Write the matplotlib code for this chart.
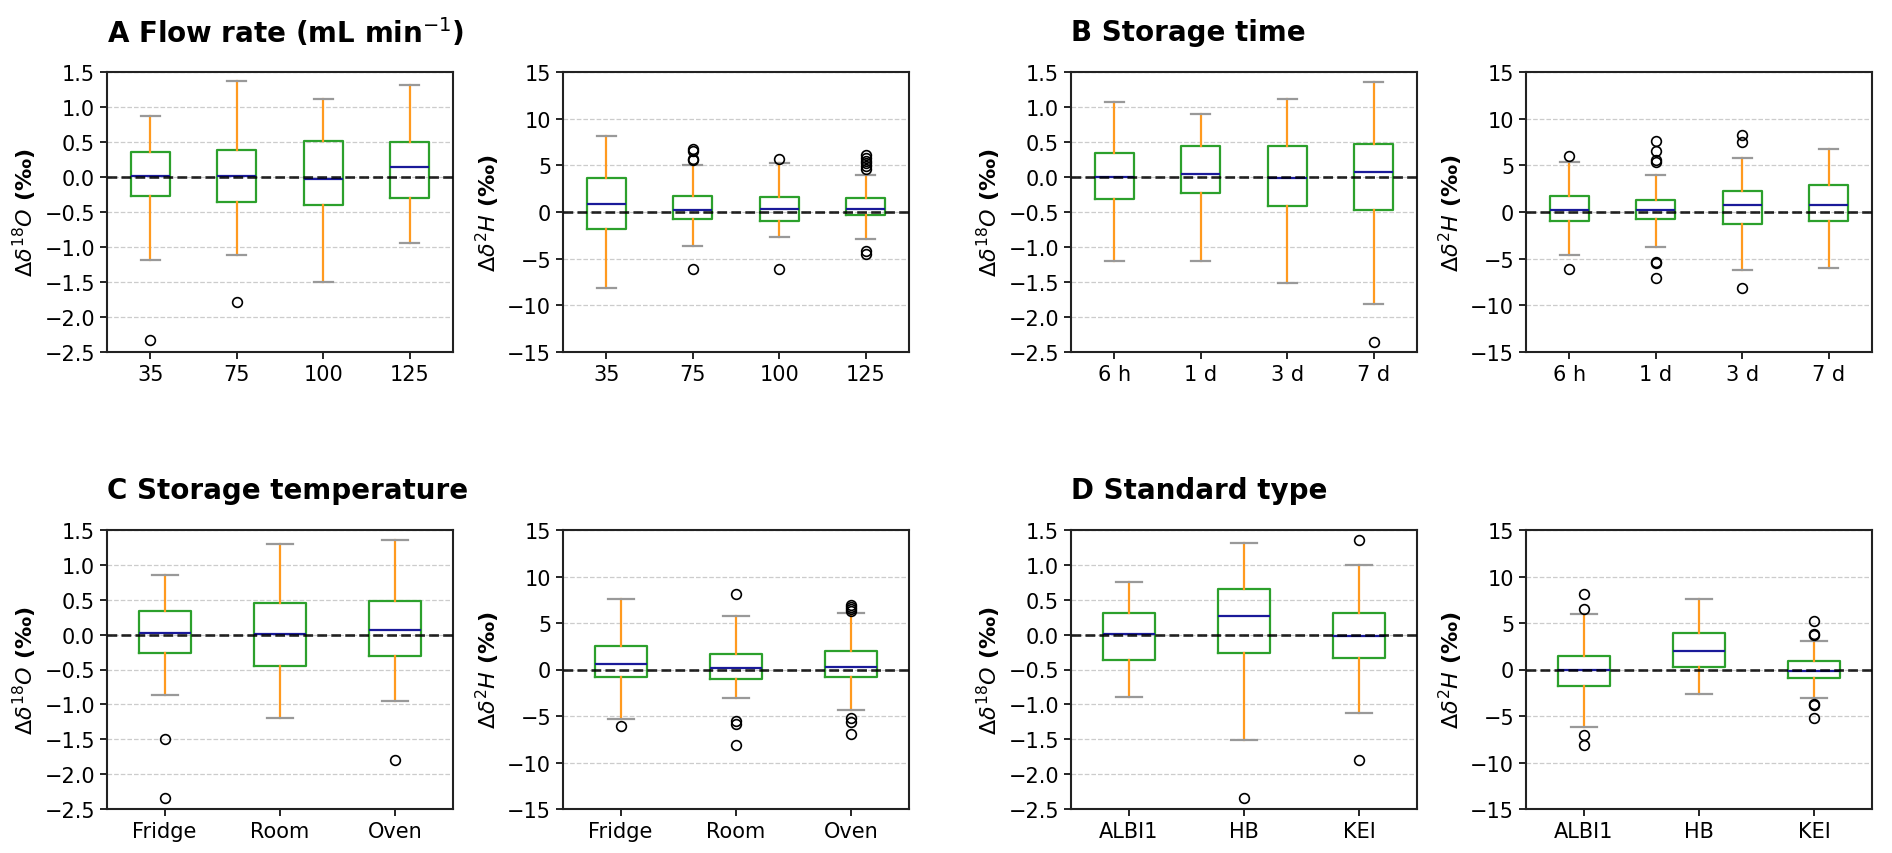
import numpy as np
import matplotlib
matplotlib.use("Agg")
import matplotlib.pyplot as plt

# category labels
flow_labels = ["35", "75", "100", "125"]
time_labels = ["6 h", "1 d", "3 d", "7 d"]
temp_labels = ["Fridge", "Room", "Oven"]
std_labels = ["ALBI1", "HB", "KEI"]

# five number summaries per box: [whisker low, q1, median, q3, whisker high]
flow_o18 = [[-1.19, -0.27, 0.02, 0.36, 0.87],
            [-1.11, -0.35, 0.02, 0.38, 1.37],
            [-1.50, -0.40, -0.03, 0.52, 1.11],
            [-0.94, -0.30, 0.14, 0.50, 1.31]]
flow_o18_fliers = [[-2.33], [-1.79], [], []]

flow_h2 = [[-8.18, -1.87, 0.86, 3.59, 8.15],
           [-3.66, -0.79, 0.18, 1.72, 5.02],
           [-2.68, -0.96, 0.29, 1.64, 5.20],
           [-2.87, -0.36, 0.29, 1.54, 3.98]]
flow_h2_fliers = [[], [6.8, 6.5, 5.7, 5.6, -6.1], [5.7, -6.14],
                  [6.1, 5.8, 5.5, 5.2, 4.9, 4.6, -4.2, -4.5]]

time_o18 = [[-1.20, -0.32, 0.005, 0.34, 1.07],
            [-1.20, -0.23, 0.05, 0.45, 0.90],
            [-1.51, -0.41, -0.02, 0.44, 1.11],
            [-1.81, -0.47, 0.07, 0.47, 1.36]]
time_o18_fliers = [[], [], [], [-2.36]]

time_h2 = [[-4.66, -0.97, 0.18, 1.69, 5.38],
           [-3.77, -0.75, 0.18, 1.29, 3.98],
           [-6.17, -1.26, 0.72, 2.22, 5.74],
           [-6.03, -0.93, 0.72, 2.94, 6.78]]
time_h2_fliers = [[6.0, -6.1], [7.57, 6.5, 5.56, 5.31, -5.31, -5.5, -7.1],
                  [8.25, 7.53, -8.18], []]

temp_o18 = [[-0.87, -0.27, 0.03, 0.34, 0.85],
            [-1.19, -0.45, 0.01, 0.45, 1.30],
            [-0.95, -0.31, 0.06, 0.48, 1.36]]
temp_o18_fliers = [[-1.50, -2.34], [], [-1.80]]

temp_h2 = [[-5.33, -0.79, 0.57, 2.54, 7.54],
           [-3.07, -1.04, 0.14, 1.68, 5.72],
           [-4.39, -0.82, 0.29, 2.04, 6.04]]
temp_h2_fliers = [[-6.11], [8.15, -5.5, -5.9, -8.1],
                  [6.9, 6.7, 6.5, 6.3, -5.18, -5.68, -6.89]]

std_o18 = [[-0.90, -0.37, 0.01, 0.31, 0.76],
           [-1.51, -0.27, 0.26, 0.66, 1.31],
           [-1.12, -0.34, -0.02, 0.31, 1.00]]
std_o18_fliers = [[], [-2.34], [1.36, -1.80]]

std_h2 = [[-6.15, -1.76, -0.10, 1.40, 5.96],
          [-2.63, 0.22, 2.02, 3.94, 7.59],
          [-3.06, -0.93, -0.18, 0.87, 3.03]]
std_h2_fliers = [[8.15, 6.55, -7.05, -8.1], [], [5.2, 3.85, 3.7, -3.7, -3.85, -5.25]]

panels = [
    (flow_labels, flow_o18, flow_o18_fliers, "o18"),
    (flow_labels, flow_h2, flow_h2_fliers, "h2"),
    (time_labels, time_o18, time_o18_fliers, "o18"),
    (time_labels, time_h2, time_h2_fliers, "h2"),
    (temp_labels, temp_o18, temp_o18_fliers, "o18"),
    (temp_labels, temp_h2, temp_h2_fliers, "h2"),
    (std_labels, std_o18, std_o18_fliers, "o18"),
    (std_labels, std_h2, std_h2_fliers, "h2"),
]

titles = ["A Flow rate (mL min$^{-1}$)", "B Storage time",
          "C Storage temperature", "D Standard type"]

W, H = 1892, 854
fig = plt.figure(figsize=(W / 100, H / 100), dpi=100)

lefts = [107, 563, 1071, 1526]
tops = [73, 531]
bottoms = [353, 810]
aw = 346

for i, (labels, stats5, fliers, kind) in enumerate(panels):
    row = i // 4
    col = i % 4
    ax = fig.add_axes([lefts[col] / W, 1 - bottoms[row] / H, aw / W,
                       (bottoms[row] - tops[row]) / H])
    stats = []
    for lab, s, f in zip(labels, stats5, fliers):
        stats.append(dict(label=lab, whislo=s[0], q1=s[1], med=s[2],
                          q3=s[3], whishi=s[4], fliers=f))
    ax.bxp(stats, widths=0.45,
           boxprops=dict(color="#2ca02c", lw=1.6),
           whiskerprops=dict(color="#ff9a1f", lw=1.6),
           capprops=dict(color="#999999", lw=1.6),
           medianprops=dict(color="#1a1a99", lw=1.6),
           flierprops=dict(marker="o", markerfacecolor="none",
                           markeredgecolor="black", markersize=7,
                           markeredgewidth=1.2))
    ax.axhline(0, color="black", ls="--", lw=1.9, alpha=0.85, zorder=5)
    ax.yaxis.grid(True, ls="--", color="#cccccc", lw=0.9)
    ax.set_axisbelow(True)
    if kind == "o18":
        ax.set_ylim(-2.5, 1.5)
        ax.set_yticks(np.arange(-2.5, 1.51, 0.5))
        ax.set_ylabel(r"$\Delta\delta^{18}O$ (‰)", fontsize=16,
                      fontweight="bold")
    else:
        ax.set_ylim(-15, 15)
        ax.set_yticks(np.arange(-15, 16, 5))
        ax.set_ylabel(r"$\Delta\delta^{2}H$ (‰)", fontsize=16,
                      fontweight="bold")
    ax.tick_params(labelsize=15, width=1.2, length=5)
    for sp in ax.spines.values():
        sp.set_linewidth(1.5)
        sp.set_color("#222222")

# panel titles
for k, t in enumerate(titles):
    row = k // 2
    col = (k % 2) * 2
    fig.text(lefts[col] / W, 1 - (tops[row] - 40) / H, t, fontsize=20,
             fontweight="bold", ha="left", va="center")

fig.savefig("out.png", dpi=100)
